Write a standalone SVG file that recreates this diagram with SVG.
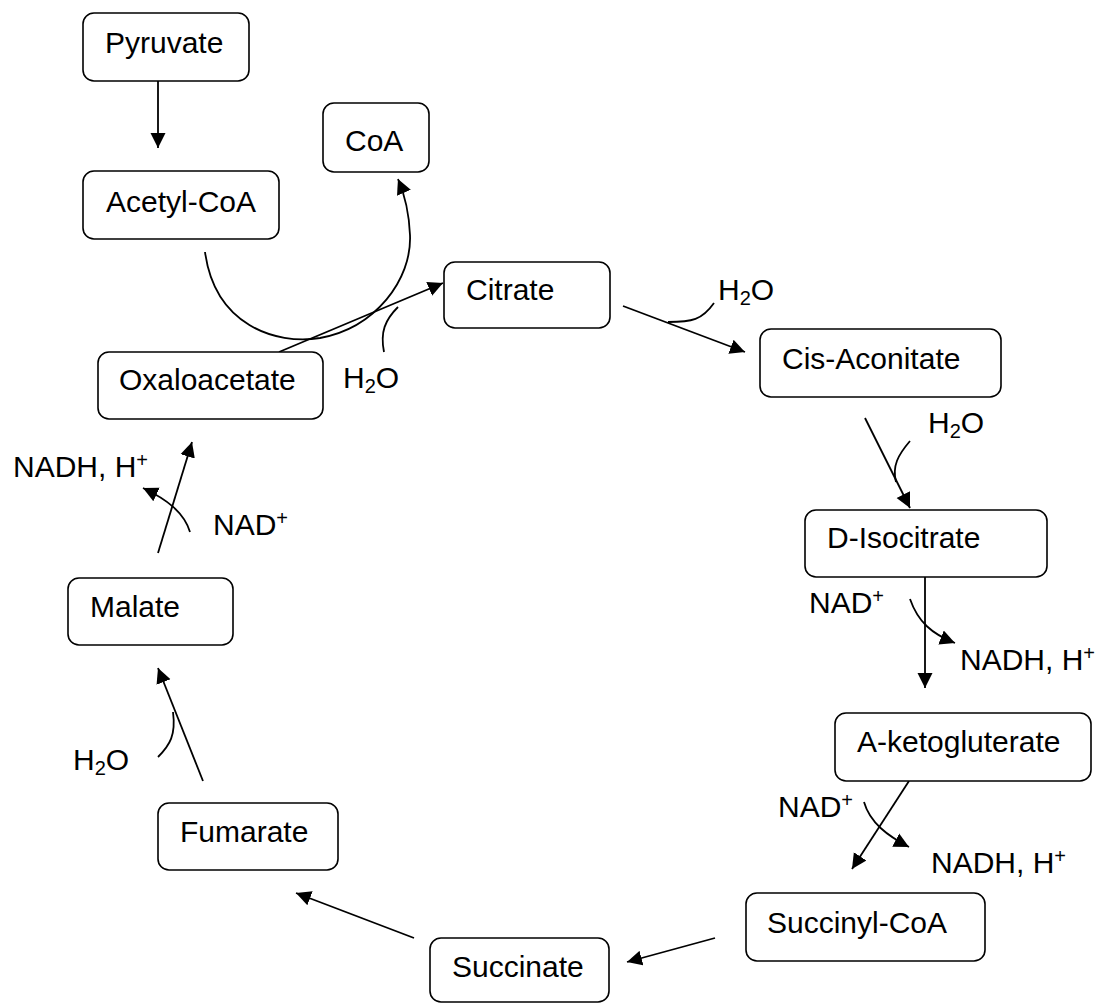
<svg xmlns="http://www.w3.org/2000/svg" width="1103" height="1004" viewBox="0 0 1103 1004">
<defs>
<marker id="ah" markerUnits="userSpaceOnUse" markerWidth="16" markerHeight="16" refX="15" refY="8" orient="auto">
<path d="M0,0.5 L15,8 L0,15.5 z" fill="#000"/>
</marker>
<style>
.box{fill:#fff;stroke:#000;stroke-width:1.6}
.t{font-family:"Liberation Sans",Arial,sans-serif;font-size:30px;fill:#000}
.s{font-size:20px}
.c{fill:none;stroke:#000;stroke-width:1.8}
.a{marker-end:url(#ah)}
</style>
</defs>
<rect width="1103" height="1004" fill="#fff"/>
<g id="connectors">
<line class="c a" x1="158" y1="81" x2="158" y2="148"/>
<path class="c a" d="M205,252 C215,325 275,345 320,338 C375,328 412,280 410,235 C409,210 404,193 398,179"/>
<line class="c a" x1="279" y1="352" x2="443" y2="283"/>
<path class="c" d="M398,307 C385,320 380,332 384,352"/>
<line class="c a" x1="623" y1="306" x2="745" y2="352"/>
<path class="c" d="M714,303 C702,320 692,322 668,322"/>
<line class="c a" x1="865" y1="418" x2="910" y2="508"/>
<path class="c" d="M910,441 C898,455 892,466 896,482"/>
<line class="c a" x1="925" y1="577" x2="925" y2="688"/>
<path class="c a" d="M910,599 C918,622 932,634 955,643"/>
<line class="c a" x1="909" y1="781" x2="852" y2="869"/>
<path class="c a" d="M864,802 C870,823 888,836 909,847"/>
<line class="c a" x1="715" y1="938" x2="627" y2="962"/>
<line class="c a" x1="414" y1="938" x2="296" y2="893"/>
<line class="c a" x1="203" y1="781" x2="158" y2="668"/>
<path class="c" d="M173,712 C176,735 170,745 158,757"/>
<line class="c a" x1="158" y1="553" x2="192" y2="442"/>
<path class="c a" d="M190,532 C184,512 166,499 143,488"/>
</g>
<g id="pyruvate"><rect class="box" x="83" y="13" width="166" height="68" rx="11"/><text class="t" x="105" y="53">Pyruvate</text></g>
<g id="coa"><rect class="box" x="323" y="103" width="106" height="69" rx="11"/><text class="t" x="345" y="151">CoA</text></g>
<g id="acetylcoa"><rect class="box" x="83" y="171" width="196" height="68" rx="11"/><text class="t" x="106" y="212">Acetyl-CoA</text></g>
<g id="citrate"><rect class="box" x="444" y="262" width="166" height="66" rx="11"/><text class="t" x="466" y="300">Citrate</text></g>
<g id="oxaloacetate"><rect class="box" x="98" y="352" width="225" height="67" rx="11"/><text class="t" x="119" y="390">Oxaloacetate</text></g>
<g id="cisaconitate"><rect class="box" x="760" y="329" width="241" height="68" rx="11"/><text class="t" x="782" y="369">Cis-Aconitate</text></g>
<g id="disocitrate"><rect class="box" x="805" y="510" width="242" height="67" rx="11"/><text class="t" x="827" y="548">D-Isocitrate</text></g>
<g id="aketogluterate"><rect class="box" x="835" y="713" width="256" height="68" rx="11"/><text class="t" x="857" y="752">A-ketogluterate</text></g>
<g id="succinylcoa"><rect class="box" x="746" y="893" width="239" height="68" rx="11"/><text class="t" x="767" y="933">Succinyl-CoA</text></g>
<g id="succinate"><rect class="box" x="430" y="938" width="179" height="64" rx="11"/><text class="t" x="452" y="977">Succinate</text></g>
<g id="fumarate"><rect class="box" x="158" y="803" width="180" height="67" rx="11"/><text class="t" x="180" y="842">Fumarate</text></g>
<g id="malate"><rect class="box" x="68" y="578" width="165" height="67" rx="11"/><text class="t" x="90" y="617">Malate</text></g>
<g id="labels">
<text class="t" x="343" y="388">H<tspan class="s" dy="5">2</tspan><tspan dy="-5">O</tspan></text>
<text class="t" x="718" y="300">H<tspan class="s" dy="5">2</tspan><tspan dy="-5">O</tspan></text>
<text class="t" x="928" y="433">H<tspan class="s" dy="5">2</tspan><tspan dy="-5">O</tspan></text>
<text class="t" x="809" y="613">NAD<tspan class="s" dy="-10">+</tspan></text>
<text class="t" x="960" y="670">NADH, H<tspan class="s" dy="-10">+</tspan></text>
<text class="t" x="778" y="817">NAD<tspan class="s" dy="-10">+</tspan></text>
<text class="t" x="931" y="873">NADH, H<tspan class="s" dy="-10">+</tspan></text>
<text class="t" x="73" y="770">H<tspan class="s" dy="5">2</tspan><tspan dy="-5">O</tspan></text>
<text class="t" x="213" y="535">NAD<tspan class="s" dy="-10">+</tspan></text>
<text class="t" x="13" y="477">NADH, H<tspan class="s" dy="-10">+</tspan></text>
</g>
</svg>
